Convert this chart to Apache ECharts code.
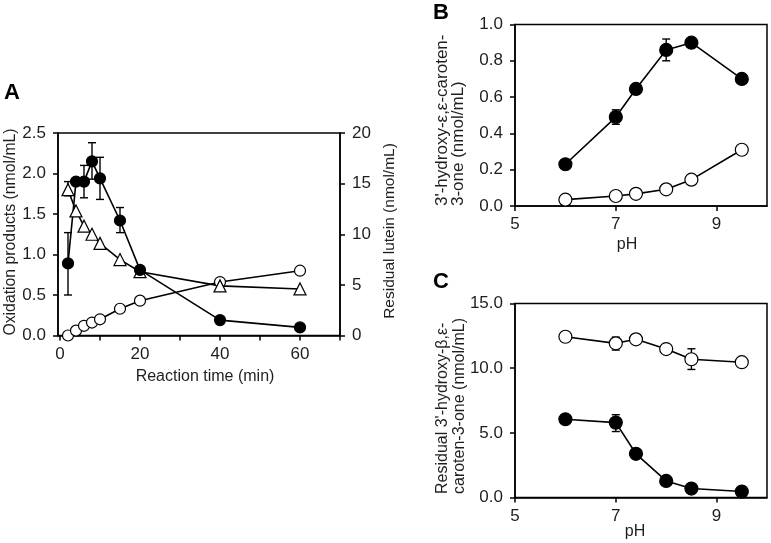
<!DOCTYPE html>
<html>
<head>
<meta charset="utf-8">
<script src="https://cdn.jsdelivr.net/npm/echarts@6/dist/echarts.min.js"></script>
<style>
html,body{margin:0;padding:0;background:#fff;}
#chart{width:771px;height:543px;}
</style>
</head>
<body>
<div id="chart"></div>
<script>
// ---------- Data ----------
// Panel A: time course
const timeA = [2, 4, 6, 8, 10, 15, 20, 40, 60];
const oxFilledA = [0.89, 1.90, 1.90, 2.15, 1.94, 1.42, 0.81, 0.19, 0.10];
const oxOpenA = [0.00, 0.06, 0.12, 0.16, 0.20, 0.33, 0.43, 0.66, 0.80];
const luteinA = [14.4, 12.3, 10.8, 10.0, 9.1, 7.5, 6.3, 4.9, 4.6];
// error bars [x, low, high]
const errFilledA = [[2, 0.50, 1.27], [6, 1.70, 2.10], [8, 1.93, 2.38], [10, 1.68, 2.20], [15, 1.27, 1.58], [40, 0.15, 0.22]];
const errLuteinA = [[2, 13.8, 15.2]];
const xTicksA = [0, 10, 20, 30, 40, 50, 60, 70];
const xLabelsA = [0, 20, 40, 60];

// Panels B & C: pH dependence
const pH = [6, 7, 7.4, 8, 8.5, 9.5];
const filledB = [0.23, 0.49, 0.645, 0.86, 0.90, 0.70];
const openB = [0.035, 0.055, 0.067, 0.092, 0.145, 0.31];
const errFilledB = [[7, 0.45, 0.53], [8, 0.80, 0.92]];
const openC = [12.43, 11.92, 12.23, 11.48, 10.69, 10.46];
const filledC = [6.05, 5.79, 3.38, 1.28, 0.69, 0.46];
const errOpenC = [[7, 11.4, 12.4], [8, 11.2, 11.8], [8.5, 9.9, 11.5]];
const errFilledC = [[7, 5.1, 6.4]];
const xTicksPH = [5, 7, 9];

// ---------- Helpers ----------
const FONT = "'Liberation Sans', Arial, sans-serif";
const TXT = '#1e1e1e';
function zip(xs, ys) { return xs.map((x, i) => [x, ys[i]]); }
function errSeries(data, xi, yi, z) {
  return {
    type: 'custom', xAxisIndex: xi, yAxisIndex: yi, z: z || 2, silent: true,
    data: data,
    renderItem: function (params, api) {
      const x = api.value(0), lo = api.value(1), hi = api.value(2);
      const p1 = api.coord([x, lo]), p2 = api.coord([x, hi]);
      const w = 4;
      const st = { stroke: '#000', lineWidth: 1.4 };
      return {
        type: 'group', children: [
          { type: 'line', shape: { x1: p1[0], y1: p1[1], x2: p2[0], y2: p2[1] }, style: st },
          { type: 'line', shape: { x1: p1[0] - w, y1: p1[1], x2: p1[0] + w, y2: p1[1] }, style: st },
          { type: 'line', shape: { x1: p2[0] - w, y1: p2[1], x2: p2[0] + w, y2: p2[1] }, style: st }
        ]
      };
    }
  };
}
function lineSeries(data, xi, yi, symbol, filled, size) {
  return {
    type: 'line', xAxisIndex: xi, yAxisIndex: yi, data: data,
    symbol: symbol, symbolSize: size, showSymbol: true, z: 3,
    lineStyle: { color: '#000', width: 1.6 },
    itemStyle: { color: filled ? '#000' : '#fff', borderColor: '#000', borderWidth: 1.2, opacity: 1 },
    animation: false
  };
}
const axisLineStyle = { show: true, onZero: false, lineStyle: { color: '#000', width: 1.5 } };
const tickStyle = { show: true, inside: false, length: 5, lineStyle: { color: '#000', width: 1.5 } };
const labelStyle = { color: TXT, fontSize: 17, fontFamily: FONT };

const chart = echarts.init(document.getElementById('chart'), null, { renderer: 'canvas' });
const option = {
  animation: false,
  backgroundColor: '#fff',
  grid: [
    { left: 58, top: 133, width: 282, height: 202.5, show: true, borderColor: '#000', borderWidth: 1.5, backgroundColor: 'transparent' },
    { left: 515, top: 24.5, width: 252, height: 181.5, show: true, borderColor: '#000', borderWidth: 1.5, backgroundColor: 'transparent' },
    { left: 515, top: 303.5, width: 252, height: 194, show: true, borderColor: '#000', borderWidth: 1.5, backgroundColor: 'transparent' }
  ],
  xAxis: [
    { gridIndex: 0, type: 'value', min: -0.5, max: 70, splitLine: { show: false },
      axisLine: axisLineStyle,
      axisTick: Object.assign({}, tickStyle, { customValues: xTicksA }),
      axisLabel: Object.assign({}, labelStyle, { margin: 10, customValues: xLabelsA }) },
    { gridIndex: 1, type: 'value', min: 5, max: 10, splitLine: { show: false },
      axisLine: axisLineStyle,
      axisTick: Object.assign({}, tickStyle, { customValues: xTicksPH }),
      axisLabel: Object.assign({}, labelStyle, { margin: 10, customValues: xTicksPH }) },
    { gridIndex: 2, type: 'value', min: 5, max: 10, splitLine: { show: false },
      axisLine: axisLineStyle,
      axisTick: Object.assign({}, tickStyle, { customValues: xTicksPH }),
      axisLabel: Object.assign({}, labelStyle, { margin: 10, customValues: xTicksPH }) }
  ],
  yAxis: [
    { gridIndex: 0, type: 'value', min: 0, max: 2.5, interval: 0.5, splitLine: { show: false },
      axisLine: axisLineStyle, axisTick: tickStyle,
      axisLabel: Object.assign({}, labelStyle, { margin: 12, formatter: v => v.toFixed(1) }) },
    { gridIndex: 0, type: 'value', position: 'right', min: 0, max: 20, interval: 5, splitLine: { show: false },
      axisLine: axisLineStyle, axisTick: tickStyle,
      axisLabel: Object.assign({}, labelStyle, { margin: 12 }) },
    { gridIndex: 1, type: 'value', min: 0, max: 1, interval: 0.2, splitLine: { show: false },
      axisLine: axisLineStyle, axisTick: tickStyle,
      axisLabel: Object.assign({}, labelStyle, { margin: 12, formatter: v => v.toFixed(1) }) },
    { gridIndex: 2, type: 'value', min: 0, max: 15, interval: 5, splitLine: { show: false },
      axisLine: axisLineStyle, axisTick: tickStyle,
      axisLabel: Object.assign({}, labelStyle, { margin: 12, formatter: v => v.toFixed(1) }) }
  ],
  series: [
    errSeries(errFilledA, 0, 0),
    errSeries(errLuteinA, 0, 1),
    lineSeries(zip(timeA, oxOpenA), 0, 0, 'circle', false, 11),
    lineSeries(zip(timeA, luteinA), 0, 1, 'triangle', false, 12),
    lineSeries(zip(timeA, oxFilledA), 0, 0, 'circle', true, 11),
    errSeries(errFilledB, 1, 2),
    lineSeries(zip(pH, openB), 1, 2, 'circle', false, 13),
    lineSeries(zip(pH, filledB), 1, 2, 'circle', true, 13),
    errSeries(errOpenC, 2, 3),
    errSeries(errFilledC, 2, 3),
    lineSeries(zip(pH, openC), 2, 3, 'circle', false, 13),
    lineSeries(zip(pH, filledC), 2, 3, 'circle', true, 13)
  ],
  graphic: [
    { type: 'text', left: 4, top: 82, style: { text: 'A', font: "bold 22px " + FONT, fill: '#000' } },
    { type: 'text', left: 433, top: 2, style: { text: 'B', font: "bold 22px " + FONT, fill: '#000' } },
    { type: 'text', left: 433, top: 271, style: { text: 'C', font: "bold 22px " + FONT, fill: '#000' } },
    { type: 'text', x: 205, y: 377, style: { text: 'Reaction time (min)', font: "16px " + FONT, fill: TXT, align: 'center', verticalAlign: 'middle' } },
    { type: 'text', x: 11, y: 232, rotation: Math.PI / 2, style: { text: 'Oxidation products (nmol/mL)', font: "15.8px " + FONT, fill: TXT, align: 'center', verticalAlign: 'middle' } },
    { type: 'text', x: 390, y: 231, rotation: Math.PI / 2, style: { text: 'Residual lutein (nmol/mL)', font: "15.5px " + FONT, fill: TXT, align: 'center', verticalAlign: 'middle' } },
    { type: 'text', x: 627, y: 245, style: { text: 'pH', font: "16px " + FONT, fill: TXT, align: 'center', verticalAlign: 'middle' } },
    { type: 'text', x: 635, y: 532, style: { text: 'pH', font: "16px " + FONT, fill: TXT, align: 'center', verticalAlign: 'middle' } },
    { type: 'text', x: 450.5, y: 206, rotation: Math.PI / 2, style: { text: "3'-hydroxy-ε,ε-caroten-\n3-one (nmol/mL)", font: "17px " + FONT, lineHeight: 16, fill: TXT, align: 'left', verticalAlign: 'middle' } },
    { type: 'text', x: 451.5, y: 494, rotation: Math.PI / 2, style: { text: "Residual 3'-hydroxy-β,ε-\ncaroten-3-one (nmol/mL)", font: "16px " + FONT, lineHeight: 17, fill: TXT, align: 'left', verticalAlign: 'middle' } }
  ]
};
chart.setOption(option);
</script>
</body>
</html>
